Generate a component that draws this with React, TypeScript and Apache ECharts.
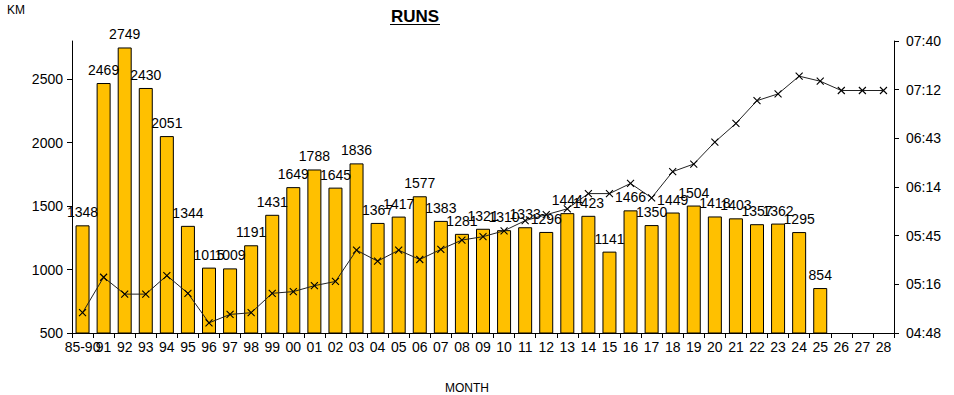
import React, { useEffect, useRef } from "react";
import * as echarts from "echarts";

const categories = [
  "85-90", "91", "92", "93", "94", "95", "96", "97", "98", "99",
  "00", "01", "02", "03", "04", "05", "06", "07", "08", "09",
  "10", "11", "12", "13", "14", "15", "16", "17", "18", "19",
  "20", "21", "22", "23", "24", "25", "26", "27", "28",
];

const kmValues: (number | null)[] = [
  1348, 2469, 2749, 2430, 2051, 1344, 1015, 1009, 1191, 1431,
  1649, 1788, 1645, 1836, 1367, 1417, 1577, 1383, 1281, 1321,
  1310, 1333, 1296, 1444, 1423, 1141, 1466, 1350, 1449, 1504,
  1418, 1403, 1357, 1362, 1295, 854, null, null, null,
];

// pace in seconds per km (mm:ss)
const paceValues: number[] = [
  300, 321, 311, 311, 322, 311.5, 294, 299, 300, 311.5,
  312.5, 316, 318.5, 337, 330.5, 337, 331.5, 337.5, 343, 345,
  348.5, 354.5, 358, 361.5, 370.5, 370.5, 376.5, 368, 383.5, 388,
  401, 412, 425.5, 429.5, 440, 437, 431.5, 431.5, 431.5,
];

const leftTicks = [500, 1000, 1500, 2000, 2500];

const FONT = "'Liberation Sans', Arial, sans-serif";

function fmtPace(v: number): string {
  const r = Math.round(v * 10) / 10;
  const m = Math.floor(r / 60);
  const s = Math.floor(r - m * 60 + 1e-6);
  return String(m).padStart(2, "0") + ":" + String(s).padStart(2, "0");
}

export default function App() {
  const ref = useRef<HTMLDivElement>(null);
  useEffect(() => {
    if (!ref.current) return;
    const chart = echarts.init(ref.current, undefined, { renderer: "svg" });
    chart.setOption({
      animation: false,
      backgroundColor: "#ffffff",
      textStyle: { fontFamily: FONT },
      grid: { left: 72, right: 60, top: 41, bottom: 62 },
      graphic: [
        {
          type: "text",
          left: 7,
          top: 4,
          style: { text: "KM", font: `12px ${FONT}`, fill: "#000" },
        },
        {
          type: "text",
          x: 415,
          y: 16,
          style: {
            text: "RUNS",
            font: `bold 17px ${FONT}`,
            fill: "#000",
            align: "center",
            verticalAlign: "middle",
          },
        },
        {
          type: "line",
          shape: { x1: 390, y1: 24.5, x2: 440, y2: 24.5 },
          style: { stroke: "#000", lineWidth: 1.2 },
        },
        {
          type: "text",
          x: 467,
          y: 388,
          style: {
            text: "MONTH",
            font: `12px ${FONT}`,
            fill: "#000",
            align: "center",
            verticalAlign: "middle",
          },
        },
      ],
      xAxis: {
        type: "category",
        data: categories,
        axisLine: { lineStyle: { color: "#000", width: 1 } },
        axisTick: { show: true, length: 5, lineStyle: { color: "#000" } },
        axisLabel: {
          interval: 0,
          color: "#000",
          fontSize: 14,
          fontFamily: FONT,
          margin: 7,
        },
        splitLine: { show: false },
      },
      yAxis: [
        {
          type: "value",
          min: 500,
          max: 2800,
          interval: 500,
          axisLine: { show: true, lineStyle: { color: "#000", width: 1 } },
          axisTick: { show: true, length: 5, customValues: leftTicks, lineStyle: { color: "#000" } },
          axisLabel: {
            customValues: leftTicks,
            color: "#000",
            fontSize: 14,
            fontFamily: FONT,
            margin: 9,
            formatter: (v: number) => String(v),
          },
          splitLine: { show: false },
        },
        {
          type: "value",
          position: "right",
          min: 288,
          max: 460.8,
          interval: 28.8,
          axisLine: { show: true, lineStyle: { color: "#000", width: 1 } },
          axisTick: { show: true, length: 5, lineStyle: { color: "#000" } },
          axisLabel: {
            color: "#000",
            fontSize: 14,
            fontFamily: FONT,
            margin: 12,
            formatter: (v: number) => fmtPace(v),
          },
          splitLine: { show: false },
        },
      ],
      series: [
        {
          type: "bar",
          name: "KM",
          data: kmValues,
          yAxisIndex: 0,
          barWidth: 14,
          itemStyle: { color: "#FFC000", borderColor: "#000", borderWidth: 1 },
          label: {
            show: true,
            position: "top",
            distance: 6,
            color: "#000",
            fontSize: 14,
            fontFamily: FONT,
          },
        },
        {
          type: "line",
          name: "PACE",
          data: paceValues,
          yAxisIndex: 1,
          symbol: "path://M0,0L10,10M10,0L0,10",
          symbolSize: 7,
          showAllSymbol: true,
          lineStyle: { color: "#222", width: 1 },
          itemStyle: { color: "#fff", borderColor: "#000", borderWidth: 1.1 },
          z: 3,
        },
      ],
    });
    return () => chart.dispose();
  }, []);
  return (
    <div
      ref={ref}
      style={{ position: "fixed", left: 0, top: 0, width: 954, height: 395, background: "#fff" }}
    />
  );
}
